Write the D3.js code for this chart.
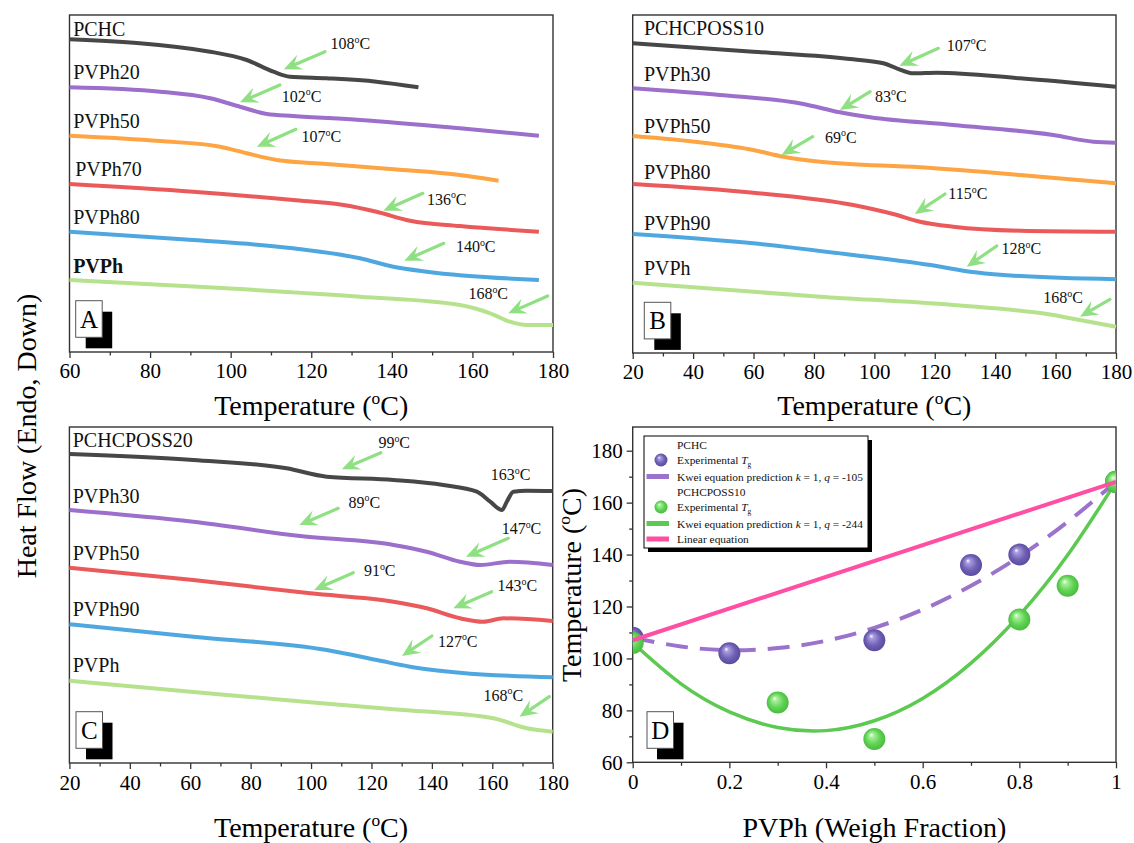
<!DOCTYPE html>
<html>
<head>
<meta charset="utf-8">
<script src="https://cdn.jsdelivr.net/npm/d3@7"></script>
<style>
  body { margin: 0; background: #fff; }
  svg { display: block; }
</style>
</head>
<body>
<svg id="fig" width="1134" height="843"></svg>
<script>
// ---- data: DSC traces, [temperature (degC), heat flow (a.u., endo down)] ----
// panel A
const aPCHC   = [[60,31.27],[94.9,30.03],[104,29.2],[110.6,28.03],[114.7,27.53],[123.8,27.37],[136.2,27.03],[146.6,26.47]];
const aPVPh20 = [[60,26.47],[82.5,26.03],[94.9,25.37],[102.3,24.53],[109,23.8],[115.5,23.6],[132.1,23.2],[156.9,22.37],[176.5,21.63]];
const aPVPh50 = [[60,21.63],[82.5,21.1],[97.4,20.53],[104,19.87],[111.4,19.2],[123.8,18.8],[140.4,18.27],[156.9,17.7],[166.5,17.13]];
const aPVPh70 = [[60,16.8],[90.7,16.03],[115.5,15.2],[128,14.7],[136.2,14.03],[144.5,13.13],[156.9,12.6],[176.5,12.03]];
const aPVPh80 = [[60,12.03],[90.7,11.2],[115.5,10.37],[132.1,9.37],[140.4,8.53],[148.7,8.03],[176.5,7.2]];
const aPVPh   = [[60,7.2],[99,6.37],[132.1,5.53],[156.9,4.7],[164.4,3.87],[169.3,3.03],[173.5,2.7],[180,2.7]];
// panel B
const bPOSS10 = [[20,30.97],[59.9,30.13],[93,29.37],[103,28.97],[107.4,28.47],[112.9,27.97],[120.6,28.03],[148.2,27.47],[180,26.63]];
const bPVPh30 = [[20,26.47],[48.9,25.8],[76.5,24.9],[88.6,24.07],[98.6,23.57],[126.1,22.8],[159.2,21.8],[172.5,21.13],[180,21.03]];
const bPVPh50 = [[20,21.7],[43.4,21.03],[59.9,20.3],[69.9,19.63],[82,19.13],[115.1,18.57],[148.2,17.8],[180,16.97]];
const bPVPh80 = [[20,16.9],[59.9,16.03],[93,14.8],[106.2,13.9],[115.1,13.13],[126.1,12.63],[148.2,12.23],[180,12.13]];
const bPVPh90 = [[20,11.9],[59.9,10.97],[93,9.8],[120.6,8.7],[131.7,8.13],[142.7,7.8],[180,7.37]];
const bPVPh   = [[20,7.03],[82,5.63],[126.1,4.8],[159.2,3.8],[168,3.3],[180,2.63]];
// panel C
const cPOSS20 = [[20,30.9],[61,30.3],[91.9,29.47],[105.2,28.63],[127.3,28.3],[143.8,27.8],[154.9,27.13],[159.3,26.13],[163.2,25.3],[164.8,26.13],[167,27.13],[171.4,27.23],[180,27.2]];
const cPVPh30 = [[20,25.3],[61,24.13],[96.4,22.7],[127.3,21.8],[138.3,21.13],[149.3,20.13],[156,19.8],[165.9,20.13],[180,19.8]];
const cPVPh50 = [[20,19.53],[61,18.3],[99.7,16.97],[127.3,16.13],[138.3,15.47],[149.3,14.47],[157,14.13],[163.7,14.47],[180,14.2]];
const cPVPh90 = [[20,13.87],[61,12.63],[105.2,11.3],[121.8,10.3],[132.8,9.63],[149.3,9.03],[180,8.57]];
const cPVPh   = [[20,8.23],[72.1,6.8],[127.3,5.37],[160.4,4.47],[171.4,3.47],[180,3.13]];

const namesA = ["PCHC","PVPh20","PVPh50","PVPh70","PVPh80","PVPh"];
const namesB = ["PCHCPOSS10","PVPh30","PVPh50","PVPh80","PVPh90","PVPh"];
const namesC = ["PCHCPOSS20","PVPh30","PVPh50","PVPh90","PVPh"];

// Tg annotations: value, text anchor [T, HF], arrow tail [T, HF], arrow tip [T, HF]
const tgA = [
  [108,[124.8,30.27],[123.4,30.03],[113.2,28.27]],
  [102,[112.7,25.03],[112.2,26.7],[102.3,24.97]],
  [107,[117.6,20.97],[116.2,22.27],[106.5,20.53]],
  [136,[148.7,14.73],[147.7,15.87],[137.9,14.13]],
  [140,[155.9,10.0],[152.9,10.87],[143.1,9.13]],
  [168,[159.0,5.27],[178.7,5.6],[168.9,3.87]]
];
const tgB = [
  [107,[124.0,30.23],[121.2,30.47],[108.3,28.73]],
  [83,[100.2,25.13],[98.6,26.13],[88.6,24.3]],
  [69,[83.7,21.03],[79.6,21.63],[69.3,19.8]],
  [115,[124.5,15.4],[123.4,15.9],[113.4,13.9]],
  [128,[142.1,9.9],[140.5,10.7],[130.6,8.63]],
  [168,[155.9,4.97],[178.0,5.37],[168.1,3.63]]
];
const tgC = [
  [99,[122.3,31.47],[123.1,31.03],[110.2,29.37]],
  [163,[159.5,28.3],null,null],
  [89,[112.4,25.53],[109.0,25.47],[96.1,23.8]],
  [147,[163.1,22.87],[165.3,22.47],[151.3,20.63]],
  [91,[117.5,18.7],[114.0,19.03],[101.0,17.3]],
  [143,[161.7,17.2],[159.8,17.13],[147.1,15.47]],
  [127,[142.0,11.63],[140.0,12.7],[130.1,10.7]],
  [168,[157.1,6.23],[178.9,6.63],[169.0,4.63]]
];
// sample-name anchors [T, HF]
const labA = [[60.9,31.6],[60.9,27.27],[60.9,22.37],[61.4,17.63],[60.9,12.8],[60.9,7.87]];
const labB = [[23.7,31.8],[23.7,27.23],[23.7,21.97],[23.7,17.37],[23.7,12.3],[23.7,7.8]];
const labC = [[21.1,31.63],[21.1,26.03],[21.1,20.3],[21.1,14.7],[21.1,9.07]];

// panel D: Tg vs PVPh weight fraction
const fracPCHC = [0, 0.2, 0.5, 0.7, 0.8, 1];
const tgPCHC   = [108, 102, 107, 136, 140, 168];
const fracPOSS = [0, 0.3, 0.5, 0.8, 0.9, 1];
const tgPOSS   = [106, 83, 69, 115, 128, 168];
const fracFit  = [0, 0.1, 0.2, 0.3, 0.4, 0.5, 0.6, 0.7, 0.8, 0.9, 1];
const kweiPCHC = [108, 104.6, 103.2, 104.0, 106.8, 111.8, 118.8, 128.0, 139.2, 152.6, 168];
const kweiPOSS = [106, 90.2, 79.4, 73.4, 72.2, 76.0, 84.6, 98.2, 116.6, 139.8, 168];
const fracLin  = [0, 1];
const tgLin    = [107, 168];

// ---- drawing ----
const FONT = '"Liberation Serif","Times New Roman",serif';
const svg = d3.select("#fig").attr("font-family", FONT);
const INK = "#333";
const ARROW = "#8fe083";
const colGray = "#474747", colPurple = "#9b6fcb", colOrange = "#fda443",
      colRed = "#eb5a5a", colBlue = "#4fa7e0", colLight = "#b6e28e";

const defs = svg.append("defs");
function ballGradient(id, light, base, dark) {
  const gr = defs.append("radialGradient").attr("id", id)
    .attr("cx", "50%").attr("cy", "50%").attr("r", "55%")
    .attr("fx", "35%").attr("fy", "30%");
  gr.append("stop").attr("offset", "0%").attr("stop-color", "#ffffff");
  gr.append("stop").attr("offset", "18%").attr("stop-color", light);
  gr.append("stop").attr("offset", "60%").attr("stop-color", base);
  gr.append("stop").attr("offset", "100%").attr("stop-color", dark);
}
ballGradient("ballPurple", "#a99be0", "#6f60b4", "#55479a");
ballGradient("ballGreen", "#a8f09a", "#5fd354", "#46b63c");

function degText(sel, prefix, value, size) {
  sel.append("tspan").text(prefix + value);
  sel.append("tspan").attr("font-size", size * 0.62).attr("dy", -size * 0.4).text("o");
  sel.append("tspan").attr("dy", size * 0.4).text("C");
}

function drawArrow(g, x1, y1, x2, y2) {
  const dx = x2 - x1, dy = y2 - y1, len = Math.hypot(dx, dy);
  const ux = dx / len, uy = dy / len, px = -uy, py = ux;
  const L = 18, W = 8, N = 7;
  const bx = x2 - L * ux, by = y2 - L * uy;
  const nx = x2 - (L - N) * ux, ny = y2 - (L - N) * uy;
  g.append("line").attr("x1", x1).attr("y1", y1).attr("x2", nx).attr("y2", ny)
    .attr("stroke", ARROW).attr("stroke-width", 3.2).attr("stroke-linecap", "round");
  g.append("path")
    .attr("d", `M${x2},${y2}L${bx + W * px},${by + W * py}L${nx},${ny}L${bx - W * px},${by - W * py}Z`)
    .attr("fill", ARROW);
}

function panelBox(g, bx, by, letter) {
  g.append("rect").attr("x", bx + 10).attr("y", by + 11).attr("width", 26.5).attr("height", 36.6).attr("fill", "#000");
  g.append("rect").attr("x", bx).attr("y", by).attr("width", 26.5).attr("height", 36.6)
    .attr("fill", "#fff").attr("stroke", "#555").attr("stroke-width", 1);
  g.append("text").attr("x", bx + 13.25).attr("y", by + 27).attr("text-anchor", "middle")
    .attr("font-size", 25).attr("fill", "#000").text(letter);
}

function styleAxis(s) {
  s.select(".domain").remove();
  s.selectAll(".tick line").attr("stroke", INK).attr("stroke-width", 1.3);
  s.selectAll(".tick text").attr("font-family", FONT).attr("font-size", 21).attr("fill", "#000");
}

function dscPanel(cfg) {
  const x = d3.scaleLinear().domain(cfg.domain).range([cfg.left, cfg.right]);
  const y = d3.scaleLinear().domain([0, cfg.hfMax]).range([cfg.bottom, cfg.top]);
  const g = svg.append("g");

  const majors = d3.range(cfg.domain[0], cfg.domain[1] + 1, 20);
  const minors = d3.range(cfg.domain[0] + 10, cfg.domain[1], 20);
  g.append("g").attr("transform", `translate(0,${cfg.bottom})`)
    .call(d3.axisBottom(x).tickValues(minors).tickSize(3.5).tickFormat(""))
    .call(styleAxis);
  g.append("g").attr("transform", `translate(0,${cfg.bottom})`)
    .call(d3.axisBottom(x).tickValues(majors).tickSize(6).tickPadding(cfg.pad).tickFormat(d3.format("d")))
    .call(styleAxis);

  g.append("rect").attr("x", cfg.left).attr("y", cfg.top)
    .attr("width", cfg.right - cfg.left).attr("height", cfg.bottom - cfg.top)
    .attr("fill", "none").attr("stroke", INK).attr("stroke-width", 1.4);

  const line = d3.line().x(d => x(d[0])).y(d => y(d[1])).curve(d3.curveMonotoneX);
  cfg.series.forEach((s, i) => {
    g.append("path").datum(s).attr("d", line).attr("fill", "none")
      .attr("stroke", cfg.colors[i]).attr("stroke-width", 4);
    g.append("text").attr("x", x(cfg.labels[i][0])).attr("y", y(cfg.labels[i][1]))
      .attr("font-size", 20).attr("fill", "#111")
      .attr("font-weight", cfg.boldLast && i === cfg.series.length - 1 ? "bold" : null)
      .text(cfg.names[i]);
  });

  cfg.tg.forEach(a => {
    const t = g.append("text").attr("x", x(a[1][0])).attr("y", y(a[1][1]))
      .attr("font-size", 16).attr("fill", "#111");
    degText(t, "", a[0], 16);
    if (a[2]) drawArrow(g, x(a[2][0]), y(a[2][1]), x(a[3][0]), y(a[3][1]));
  });

  panelBox(g, cfg.left + cfg.boxDx, cfg.bottom - cfg.boxDy, cfg.letter);

  const title = g.append("text").attr("x", (cfg.left + cfg.right) / 2).attr("y", cfg.titleY)
    .attr("text-anchor", "middle").attr("font-size", 28).attr("fill", "#000");
  degText(title, "Temperature (", "", 28);
  title.append("tspan").text(")");
}

dscPanel({
  domain: [60, 180], left: 69.5, right: 553, top: 15, bottom: 352, hfMax: 33.7, pad: 5,
  series: [aPCHC, aPVPh20, aPVPh50, aPVPh70, aPVPh80, aPVPh],
  colors: [colGray, colPurple, colOrange, colRed, colBlue, colLight],
  names: namesA, labels: labA, tg: tgA, boldLast: true,
  letter: "A", boxDx: 6.2, boxDy: 51.3, titleY: 415
});
dscPanel({
  domain: [20, 180], left: 632.7, right: 1116, top: 15, bottom: 353, hfMax: 33.8, pad: 5,
  series: [bPOSS10, bPVPh30, bPVPh50, bPVPh80, bPVPh90, bPVPh],
  colors: [colGray, colPurple, colOrange, colRed, colBlue, colLight],
  names: namesB, labels: labB, tg: tgB, boldLast: false,
  letter: "B", boxDx: 11.6, boxDy: 50.7, titleY: 415
});
dscPanel({
  domain: [20, 180], left: 69.4, right: 552.7, top: 427, bottom: 763, hfMax: 33.6, pad: 6,
  series: [cPOSS20, cPVPh30, cPVPh50, cPVPh90, cPVPh],
  colors: [colGray, colPurple, colRed, colBlue, colLight],
  names: namesC, labels: labC, tg: tgC, boldLast: false,
  letter: "C", boxDx: 6.6, boxDy: 51.3, titleY: 837
});

// shared y title for A-C
svg.append("text").attr("transform", "translate(36,436) rotate(-90)")
  .attr("text-anchor", "middle").attr("font-size", 28).attr("fill", "#000")
  .text("Heat Flow (Endo, Down)");

// ---- panel D ----
(function () {
  const left = 632.7, right = 1116, top = 427, bottom = 762.3;
  const x = d3.scaleLinear().domain([0, 1]).range([left, right]);
  const y = d3.scaleLinear().domain([60, 180]).range([bottom, 450.7]);
  const g = svg.append("g");

  g.append("g").attr("transform", `translate(0,${bottom})`)
    .call(d3.axisBottom(x).tickValues(d3.range(0.1, 1, 0.2)).tickSize(3.5).tickFormat(""))
    .call(styleAxis);
  g.append("g").attr("transform", `translate(0,${bottom})`)
    .call(d3.axisBottom(x).tickValues([0, 0.2, 0.4, 0.6, 0.8, 1]).tickSize(6).tickPadding(6)
      .tickFormat(d => (d === 0 || d === 1) ? String(d) : d.toFixed(1)))
    .call(styleAxis);
  g.append("g").attr("transform", `translate(${left},0)`)
    .call(d3.axisLeft(y).tickValues(d3.range(70, 180, 20)).tickSize(3.5).tickFormat(""))
    .call(styleAxis);
  g.append("g").attr("transform", `translate(${left},0)`)
    .call(d3.axisLeft(y).tickValues(d3.range(60, 181, 20)).tickSize(6).tickPadding(4))
    .call(styleAxis);
  g.append("rect").attr("x", left).attr("y", top).attr("width", right - left).attr("height", bottom - top)
    .attr("fill", "none").attr("stroke", INK).attr("stroke-width", 1.4);

  const curve = d3.line().x(d => x(d[0])).y(d => y(d[1])).curve(d3.curveNatural);
  const clip = defs.append("clipPath").attr("id", "clipD");
  clip.append("rect").attr("x", left).attr("y", top).attr("width", right - left).attr("height", bottom - top);
  const plot = g.append("g").attr("clip-path", "url(#clipD)");

  plot.append("path").datum(d3.zip(fracFit, kweiPCHC)).attr("d", curve).attr("fill", "none")
    .attr("stroke", "#9b73cd").attr("stroke-width", 4).attr("stroke-dasharray", "22,12");
  plot.append("path").datum(d3.zip(fracFit, kweiPOSS)).attr("d", curve).attr("fill", "none")
    .attr("stroke", "#5cc951").attr("stroke-width", 3.5);

  plot.selectAll("circle.pchc").data(d3.zip(fracPCHC, tgPCHC)).join("circle")
    .attr("class", "pchc").attr("cx", d => x(d[0])).attr("cy", d => y(d[1])).attr("r", 11)
    .attr("fill", "url(#ballPurple)");
  plot.selectAll("circle.poss").data(d3.zip(fracPOSS, tgPOSS)).join("circle")
    .attr("class", "poss").attr("cx", d => x(d[0])).attr("cy", d => y(d[1])).attr("r", 11)
    .attr("fill", "url(#ballGreen)");

  plot.append("path").datum(d3.zip(fracLin, tgLin)).attr("d", d3.line().x(d => x(d[0])).y(d => y(d[1])))
    .attr("fill", "none").attr("stroke", "#ff4fa3").attr("stroke-width", 4);

  // legend
  const lg = g.append("g");
  const lx = 644, ly = 436, lw = 224, lh = 112;
  lg.append("rect").attr("x", lx + 4).attr("y", ly + 4).attr("width", lw).attr("height", lh).attr("fill", "#000");
  lg.append("rect").attr("x", lx).attr("y", ly).attr("width", lw).attr("height", lh)
    .attr("fill", "#fff").attr("stroke", "#000").attr("stroke-width", 1);
  const tx = 677, fs = 11.4;
  const rows = [448.5, 464, 480.5, 495.5, 511, 527.5, 543];
  const txt = (yy) => lg.append("text").attr("x", tx).attr("y", yy).attr("font-size", fs).attr("fill", "#111");
  function tgLabel(yy) {
    const t = txt(yy); t.append("tspan").text("Experimental ");
    t.append("tspan").attr("font-style", "italic").text("T");
    t.append("tspan").attr("font-size", fs * 0.65).attr("dy", 2.5).text("g");
  }
  function kweiLabel(yy, q) {
    const t = txt(yy); t.append("tspan").text("Kwei equation prediction ");
    t.append("tspan").attr("font-style", "italic").text("k");
    t.append("tspan").text(" = 1, ");
    t.append("tspan").attr("font-style", "italic").text("q");
    t.append("tspan").text(" = " + q);
  }
  const sample = (yy, color) => lg.append("line").attr("x1", 646.5).attr("x2", 669)
    .attr("y1", yy - 4).attr("y2", yy - 4).attr("stroke", color).attr("stroke-width", 5);
  txt(rows[0]).text("PCHC");
  lg.append("circle").attr("cx", 661).attr("cy", rows[1] - 4).attr("r", 6.5).attr("fill", "url(#ballPurple)");
  tgLabel(rows[1]);
  sample(rows[2], "#9b73cd"); kweiLabel(rows[2], "-105");
  txt(rows[3]).text("PCHCPOSS10");
  lg.append("circle").attr("cx", 661).attr("cy", rows[4] - 4).attr("r", 6.5).attr("fill", "url(#ballGreen)");
  tgLabel(rows[4]);
  sample(rows[5], "#5cc951"); kweiLabel(rows[5], "-244");
  sample(rows[6], "#ff4fa3"); txt(rows[6]).text("Linear equation");

  panelBox(g, 647, 711.7, "D");

  g.append("text").attr("x", (left + right) / 2).attr("y", 837).attr("text-anchor", "middle")
    .attr("font-size", 28).attr("fill", "#000").text("PVPh (Weigh Fraction)");
  const yt = g.append("text").attr("transform", "translate(581,585) rotate(-90)")
    .attr("text-anchor", "middle").attr("font-size", 28).attr("fill", "#000");
  degText(yt, "Temperature (", "", 28);
  yt.append("tspan").text(")");
})();
</script>
</body>
</html>
